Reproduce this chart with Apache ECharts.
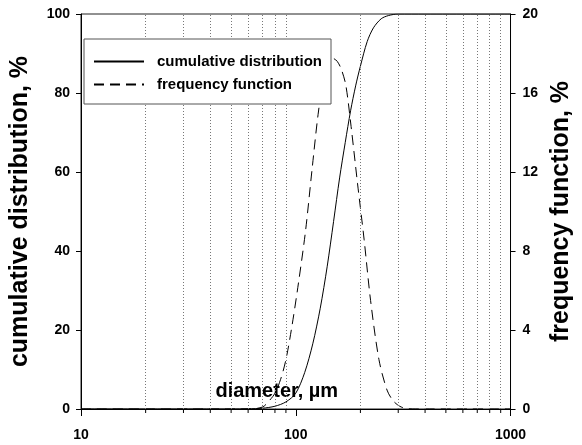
<!DOCTYPE html>
<html>
<head>
<meta charset="utf-8">
<script src="https://cdn.jsdelivr.net/npm/echarts@6/dist/echarts.min.js"></script>
<style>html,body{margin:0;padding:0;background:#fff}#c{width:582px;height:445px}</style>
</head>
<body>
<div id="c"></div>
<script>
// diameter (µm) and cumulative distribution (%)
var cumD   = [10, 50, 60, 70, 80, 90, 100, 110, 120, 130, 140, 150, 160, 170, 180, 190, 200, 215, 230, 250, 270, 300, 400, 1000];
var cumVal = [0, 0, 0.05, 0.2, 0.7, 1.8, 4.0, 9.2, 16.5, 25.5, 36, 47.5, 58.5, 67.5, 75.5, 81.8, 86.8, 93, 96.5, 98.8, 99.6, 100, 100, 100];
// diameter (µm) and frequency function (%)
var freqD   = [10, 60, 70, 75, 80, 85, 90, 96, 103, 111, 119, 127, 135, 142, 149, 156, 163, 171, 181, 194, 208, 223, 244, 266, 285, 310, 350, 1000];
var freqVal = [0, 0, 0.1, 0.4, 0.8, 1.5, 2.5, 4.2, 6.4, 9.0, 12.1, 14.9, 16.8, 17.6, 17.75, 17.6, 17.2, 16.4, 14.3, 11.4, 8.6, 5.5, 2.5, 0.96, 0.4, 0.1, 0, 0];
// minor grid positions on the log axis
var minorTicks = [20, 30, 40, 50, 60, 70, 80, 90, 200, 300, 400, 500, 600, 700, 800, 900];
var seriesNames = ['cumulative distribution', 'frequency function'];

function pairs(xs, ys) { return xs.map(function (x, i) { return [x, ys[i]]; }); }

var FONT = "'Liberation Sans', Arial, sans-serif";
var chart = echarts.init(document.getElementById('c'), null, {renderer: 'canvas'});
chart.setOption({
  animation: false,
  backgroundColor: '#fff',
  textStyle: {fontFamily: FONT, color: '#000'},
  grid: {left: 78, right: 66, top: 14, bottom: 36, show: true, borderColor: '#222', borderWidth: 1, containLabel: false},
  legend: {
    data: seriesNames,
    orient: 'vertical',
    left: 84, top: 39,
    padding: [15, 9, 12, 9],
    itemWidth: 50, itemHeight: 14, itemGap: 8,
    backgroundColor: '#fff',
    borderColor: '#555', borderWidth: 1,
    itemStyle: {opacity: 0},
    textStyle: {fontFamily: FONT, fontSize: 15, fontWeight: 'bold', color: '#000', padding: [0, 0, 0, 8]},
    z: 10
  },
  xAxis: {
    type: 'log', logBase: 10, min: 10, max: 1000,
    name: 'diameter, µm', nameLocation: 'middle', nameGap: -28,
    nameTextStyle: {fontFamily: FONT, fontSize: 20, fontWeight: 'bold', color: '#000', padding: [0, 38, 0, 0]},
    axisLine: {show: true, lineStyle: {color: '#000', width: 1}},
    axisTick: {show: true, inside: false, length: 7, lineStyle: {color: '#000'}},
    axisLabel: {fontFamily: FONT, fontSize: 14, fontWeight: 'bold', color: '#000', margin: 19,
      formatter: function (v) { return String(Math.round(v)); }},
    splitLine: {show: false}
  },
  yAxis: [{
    type: 'value', min: 0, max: 100, interval: 20, position: 'left',
    name: 'cumulative distribution, %', nameLocation: 'middle', nameGap: 48,
    nameTextStyle: {fontFamily: FONT, fontSize: 25, fontWeight: 'bold', color: '#000'},
    axisLine: {show: true, lineStyle: {color: '#000'}},
    axisTick: {show: true, inside: false, length: 5, lineStyle: {color: '#000'}},
    axisLabel: {fontFamily: FONT, fontSize: 14, fontWeight: 'bold', color: '#000', margin: 11},
    splitLine: {show: false}
  }, {
    type: 'value', min: 0, max: 20, interval: 4, position: 'right',
    name: 'frequency function, %', nameLocation: 'middle', nameGap: 37,
    nameTextStyle: {fontFamily: FONT, fontSize: 25, fontWeight: 'bold', color: '#000'},
    axisLine: {show: true, lineStyle: {color: '#000'}},
    axisTick: {show: true, inside: false, length: 5, lineStyle: {color: '#000'}},
    axisLabel: {fontFamily: FONT, fontSize: 14, fontWeight: 'bold', color: '#000', margin: 12},
    splitLine: {show: false}
  }],
  series: [{
    name: seriesNames[0], type: 'line', yAxisIndex: 0,
    data: pairs(cumD, cumVal), smooth: 0.3, symbol: 'none',
    lineStyle: {color: '#000', width: 1, type: 'solid'},
    itemStyle: {color: '#000'},
    markLine: {
      silent: true, symbol: 'none', label: {show: false}, animation: false,
      lineStyle: {color: '#777', width: 1, type: [1, 2]},
      data: minorTicks.map(function (v) { return {xAxis: v}; })
    },
    z: 3
  }, {
    name: seriesNames[1], type: 'line', yAxisIndex: 1,
    data: pairs(freqD, freqVal), smooth: 0.3, symbol: 'none',
    lineStyle: {color: '#000', width: 1, type: [10, 6]},
    itemStyle: {color: '#000'},
    z: 3
  }, {
    type: 'custom', yAxisIndex: 0, silent: true, clip: false, z: 4,
    data: minorTicks.map(function (v) { return [v, 0]; }),
    renderItem: function (params, api) {
      var p = api.coord([api.value(0), 0]);
      return {type: 'line', shape: {x1: p[0], y1: p[1], x2: p[0], y2: p[1] + 4}, style: {stroke: '#000', lineWidth: 1}};
    }
  }]
});
</script>
</body>
</html>
